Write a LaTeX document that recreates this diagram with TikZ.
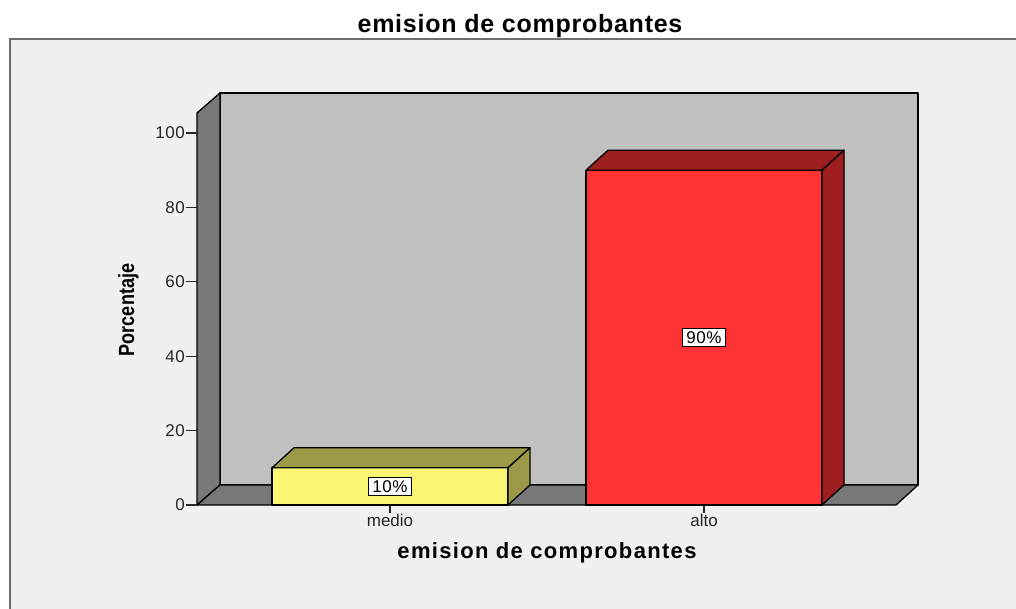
\documentclass[tikz,border=0pt]{standalone}
\usepackage{fontspec}
\setmainfont{Liberation Sans}
\newfontfamily\spacedfont[LetterSpace=3]{Liberation Sans}
\newfontfamily\widefont[LetterSpace=6]{Liberation Sans}
\newfontfamily\narrowfont[FakeStretch=0.82]{Liberation Sans}
\newfontfamily\tickfont[LetterSpace=3]{Liberation Sans}
\usetikzlibrary{positioning}
\definecolor{panelgray}{HTML}{F0F0F0}
\definecolor{framegray}{HTML}{6E6E6E}
\definecolor{wallgray}{HTML}{C0C0C0}
\definecolor{sidegray}{HTML}{787878}
\definecolor{yellowfront}{HTML}{FAF573}
\definecolor{yellowdark}{HTML}{9C9A48}
\definecolor{redfront}{HTML}{FF3333}
\definecolor{reddark}{HTML}{9E1F20}
\tikzset{
  face/.style={draw=black, line width=1.3pt, line join=round},
  axisline/.style={draw=black!85, line width=1.3pt},
  pctbox/.style={draw=black, fill=white, line width=0.9pt, inner xsep=4pt,
    inner ysep=3pt, font=\tickfont\fontsize{17}{17}\selectfont},
  ticklabel/.style={anchor=east, inner sep=1pt, text=black!85,
    font=\tickfont\fontsize{17}{17}\selectfont},
  catlabel/.style={anchor=base, inner sep=0pt, text=black!85,
    font=\fontsize{17}{17}\selectfont},
}

\begin{document}
\begin{tikzpicture}[x=1pt,y=-1pt]

  \newcommand\Base{505}
  \newcommand\Unit{3.72}
  \newcommand\W{236}

  \useasboundingbox (0,0) rectangle (1016,608);

  %% panel
  \draw[fill=panelgray, draw=framegray, line width=2pt] (10,39) rectangle (1040,640);

  %% walls and floor
  \draw[face, fill=wallgray] (220,93) rectangle (918,485);
  \draw[face, fill=sidegray] (197,113) -- (220,93) -- (220,485) -- (197,\Base) -- cycle;
  \draw[face, fill=sidegray] (197,\Base) -- (220,485) -- (918,485) -- (896,\Base) -- cycle;

  %% bars
  \foreach \xl/\val/\col/\lab in {272/10/yellow/medio, 586/90/red/alto}{
    \pgfmathsetmacro\ytop{\Base-\Unit*\val}
    \draw[face, fill=\col front] (\xl,\Base) rectangle (\xl+\W,\ytop);
    \draw[face, fill=\col dark] (\xl,\ytop) -- ++(22,-20) -- ++(\W,0) -- ++(-22,20) -- cycle;
    \draw[face, fill=\col dark] (\xl+\W,\ytop) -- ++(22,-20) -- (\xl+\W+22,485)
      -- (\xl+\W,\Base) -- cycle;
    \node[pctbox] (pct\lab) at (\xl+\W/2, {(\Base+\ytop)/2}) {\val\%};
    \coordinate (cattop\lab) at (\xl+\W/2,\Base);
    \coordinate (catend\lab) at (\xl+\W/2,\Base+8);
    \draw[axisline] (cattop\lab) -- (catend\lab);
    \node[catlabel] (cat\lab) at (\xl+\W/2,526) {\lab};
  }

  %% y axis ticks
  \foreach \v in {0,20,...,100}{
    \coordinate (ytick\v) at (197,\Base-\Unit*\v);
    \coordinate (yend\v) at (186,\Base-\Unit*\v);
    \draw[axisline] (ytick\v) -- (yend\v);
    \node[ticklabel] (ylab\v) at (yend\v) {\v};
  }

  %% titles
  \node[anchor=base, inner sep=0pt, font=\spacedfont\bfseries\fontsize{25}{25}\selectfont]
    (charttitle) at (520,32) {emision de comprobantes};
  \node[anchor=base, inner sep=0pt, font=\widefont\bfseries\fontsize{22}{22}\selectfont]
    (xtitle) at (547,558) {emision de comprobantes};
  \node[anchor=base, rotate=90, inner sep=0pt, font=\narrowfont\bfseries\fontsize{22}{22}\selectfont]
    (ytitle) at (134,310) {Porcentaje};

\end{tikzpicture}
\end{document}
